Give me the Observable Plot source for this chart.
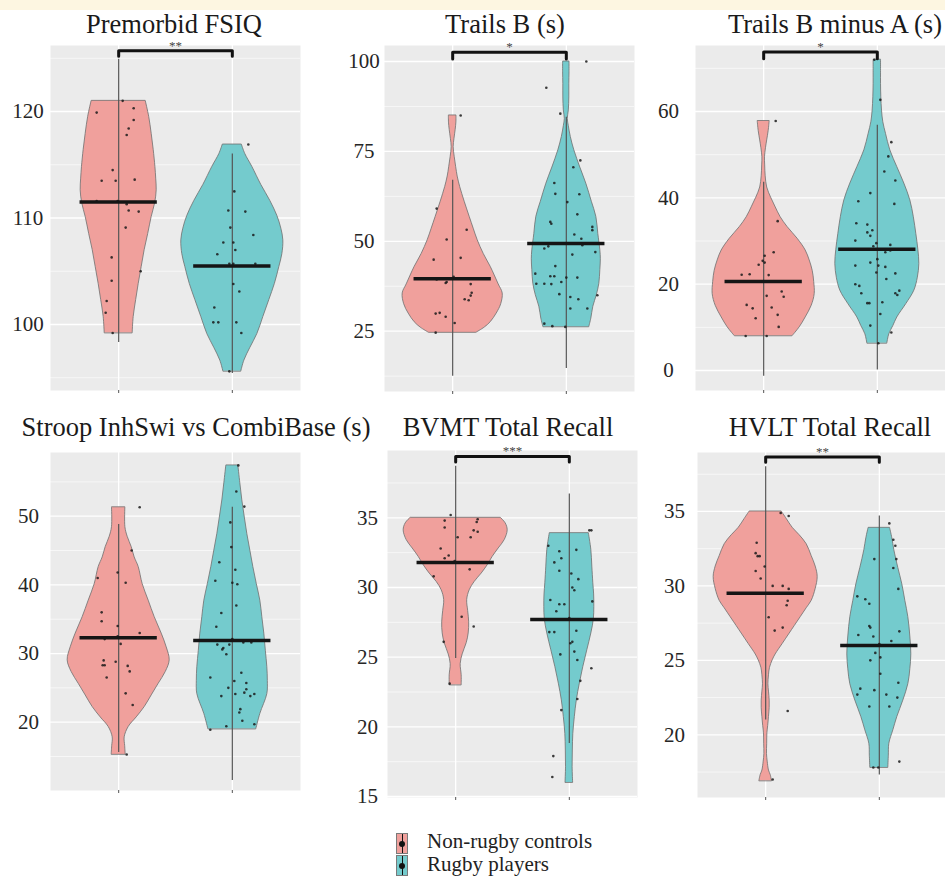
<!DOCTYPE html>
<html><head><meta charset="utf-8">
<script src="https://cdn.jsdelivr.net/npm/d3@7"></script>
<script src="https://cdn.jsdelivr.net/npm/@observablehq/plot@0.6"></script>
<style>
body{margin:0;background:#fff;}
#root{position:relative;width:945px;height:878px;overflow:hidden;background:#fff;font-family:"Liberation Serif","Times New Roman",serif;}
.title{position:absolute;font-size:26.5px;color:#1a1a1a;white-space:nowrap;transform:translateX(-50%);line-height:0.8;}
.panel{position:absolute;}
.panel svg text{font-family:"Liberation Serif","Times New Roman",serif;}
.key{position:absolute;width:10px;height:19px;border:1px solid #7a7a7a;}
.key::before{content:"";position:absolute;left:4.5px;top:0;width:1.2px;height:19px;background:#111;}
.key::after{content:"";position:absolute;left:2px;top:6.5px;width:6px;height:6px;border-radius:50%;background:#111;}
.ltext{position:absolute;font-size:21px;line-height:1;color:#222;white-space:nowrap;}
</style></head>
<body><div id="root"><div style="position:absolute;left:0;top:0;width:945px;height:10px;background:#fdf6e1"></div></div>
<script>
// ---------- DATA ----------
const groups = ["Non-rugby controls", "Rugby players"];
const titles = ["Premorbid FSIQ","Trails B (s)","Trails B minus A (s)","Stroop InhSwi vs CombiBase (s)","BVMT Total Recall","HVLT Total Recall"];
const yTicks = [[100,110,120],[25,50,75,100],[0,20,40,60],[20,30,40,50],[15,20,25,30,35],[20,25,30,35]];
const ctrlMeans  = [111.5, 39.6, 20.6, 32.3, 31.8, 29.5];
const rugbyMeans = [105.5, 49.4, 28.1, 31.9, 27.7, 26.0];
const ctrlRanges  = [[98.3,124.9],[12.5,67.0],[-1.3,43.6],[15.6,48.8],[24.9,38.7],[21.0,38.0]];
const rugbyRanges = [[95.4,116.0],[14.6,84.5],[0.1,56.8],[11.5,51.3],[18.8,36.7],[17.3,34.7]];
const brackets = [[125.7,125.2,"**"],[102.6,100.7,"*"],[73.8,72.2,"*"],null,[39.4,39.0,"***"],[38.65,38.3,"**"]];

// violin profiles: [value, half-width]
const fsiqCtrlViolin = [[99.2,14],[100.7,15],[102.3,17.5],[103.8,20],[105.4,23],[107.0,26],[108.5,29.5],[110.1,33],[111.4,36.5],[112.6,38],[113.7,37.5],[114.8,36.7],[116.4,35],[117.9,33],[119.5,30.5],[121.0,27]];
const fsiqRugbyViolin = [[95.6,9],[96.6,12],[97.8,18],[99.1,25],[100.7,31],[102.3,37],[103.8,42.5],[105.4,47],[106.6,50],[107.9,51],[109.0,49],[110.2,45],[111.6,38],[113.1,29],[114.8,20],[116.0,13],[116.9,9.5]];
const trailsCtrlViolin = [[24.6,24],[26.0,32],[27.5,38],[29.9,44],[32.5,48.5],[35.5,50],[38.0,46],[40.5,42],[42.9,38],[46.5,31],[50.3,25],[53.5,21],[56.8,17],[61.0,12],[65.1,7.5],[68.0,5],[70.6,3.5],[73.5,2],[76.2,1],[78.5,1.8],[81.0,3],[83.0,3.7],[85.0,3.8]];
const trailsRugbyViolin = [[26.2,23],[28.5,25],[31.8,27],[35.0,30.5],[38.2,33],[42.0,34],[45.0,34.5],[47.5,34],[52.0,32],[56.8,30],[61.0,25.5],[66.0,20],[70.5,14],[75.3,8],[79.0,4.5],[82.0,2.5],[84.0,1.5],[86.4,2.5],[90.0,3],[93.8,3],[97.0,3.2],[100.0,3.2]];
const trailsBACtrlViolin = [[8.0,29],[10.0,36],[12.3,42],[15.0,48],[17.7,51],[20.5,50.5],[23.1,49],[25.5,46],[27.8,42],[30.5,34],[33.2,24],[35.5,17],[37.8,12],[40.0,7.5],[42.4,3.5],[45.0,2],[47.5,1.5],[49.4,1.3],[51.5,2.3],[53.3,3.5],[55.5,5],[57.8,6]];
const trailsBARugbyViolin = [[6.3,10],[8.4,12],[10.3,16],[12.3,20],[15.4,29],[18.5,37],[21.5,40.5],[24.7,42],[28.0,41],[31.6,39],[35.5,36.5],[39.4,33],[43.3,27],[47.1,20],[51.0,13],[54.8,8.7],[57.5,6],[60.2,4.7],[63.3,4],[66.4,3.7],[69.0,3.7],[72.0,3.7]];
const stroopCtrlViolin = [[15.3,7],[16.5,6.5],[17.8,6],[19.3,10],[20.7,18],[22.2,26],[23.9,33],[25.6,40],[27.3,47],[29.0,51],[30.9,48],[32.9,43],[35.3,36],[37.7,30],[40.1,24],[42.6,20],[44.0,16],[45.5,13],[47.0,9],[48.4,6.7],[51.3,6.7]];
const stroopRugbyViolin = [[19.0,24],[21.2,28],[24.1,35],[26.0,35.5],[28.0,35],[30.4,33.5],[32.9,32],[35.3,30],[37.7,28],[40.1,24.5],[42.6,21],[45.0,18],[47.4,15],[49.8,12.5],[52.3,10],[54.8,8],[57.4,6]];
const bvmtCtrlViolin = [[23.0,6],[23.7,6],[24.5,5],[25.2,7],[26.0,11],[26.7,13],[27.5,13.5],[28.3,12.5],[29.1,11.5],[29.8,14],[30.4,19],[31.0,26],[31.6,32],[32.2,37],[32.8,43],[33.4,49],[34.1,52],[34.6,50],[35.0,45]];
const bvmtRugbyViolin = [[16.0,3.8],[17.1,3.3],[18.3,3.5],[19.5,4],[20.7,5.5],[21.9,7.5],[23.1,10.5],[24.3,14],[25.5,18],[26.7,22],[27.7,24.5],[28.6,25],[29.5,24.8],[30.3,24],[31.5,23],[32.7,22],[33.9,19.5]];
const hvltCtrlViolin = [[16.9,6.3],[17.3,5],[17.6,3.3],[18.2,2],[18.7,1.3],[19.4,1.5],[20.1,1.7],[20.6,2.5],[21.2,3.3],[21.8,4],[22.3,4],[22.9,3.3],[23.4,2.7],[24.0,3.3],[24.5,4.3],[25.0,7],[25.4,10],[26.1,17],[26.8,24],[27.3,29],[27.9,35],[28.5,41],[29.0,46],[29.8,50],[30.6,52],[31.3,50],[32.0,46],[32.8,41],[33.4,34],[33.9,27],[34.5,21],[35.0,16]];
const hvltRugbyViolin = [[17.8,9],[18.6,9.5],[19.4,10],[20.3,14],[21.2,18],[22.3,24],[23.4,29],[24.4,31],[25.4,32],[26.6,31],[27.9,29],[29.0,26],[30.1,23],[31.2,19],[32.4,15],[33.2,13],[33.9,10.7]];

// individual scores: [value, horizontal jitter]
const fsiqCtrlPts = [[121.0,4],[119.9,-22],[120.3,15],[119.2,15],[118.4,10],[117.8,8],[114.5,-6],[113.5,-17],[113.5,-3],[113.6,16],[111.6,-22],[111.6,-1],[111.3,8],[110.7,10],[110.6,20],[109.1,7],[106.3,-7],[104.1,-7],[105.0,22],[102.2,-12],[101.1,-13],[99.2,-6]];
const fsiqRugbyPts = [[116.9,16],[112.5,2],[110.7,-4],[110.6,13],[109.1,-2],[108.4,21],[107.7,-9],[107.7,1],[107.0,3],[106.6,-15],[105.7,-3],[105.7,1],[105.7,23],[103.8,1],[103.1,7],[101.6,-18],[100.2,-19],[100.2,-14],[100.2,4],[99.2,9],[95.6,-3]];
const trailsCtrlPts = [[85.0,8],[59.1,-16],[50.5,-6],[53.2,14],[44.9,-19],[45.4,8],[40.1,1],[39.4,-16],[38.4,-7],[38.7,-6],[38.1,18],[35.7,19],[34.9,18],[33.9,12],[33.6,16],[29.9,-17],[30.1,-13],[29.0,-7],[27.3,2],[24.6,-17]];
const trailsRugbyPts = [[100,20],[92.7,-20],[85.5,-6],[72.5,14],[66.2,-12],[70.6,7],[63.2,-11],[63.1,13],[60.9,1],[57.5,11],[55.4,-16],[54.9,-15],[54.0,26],[53.1,26],[51.9,8],[50.7,15],[48.9,16],[48.0,-22],[48.6,-18],[46.3,6],[47.0,29],[43.1,-11],[41.0,-31],[40.3,-16],[40.3,-12],[39.9,0],[39.9,11],[38.2,-30],[38.2,-22],[38.7,-5],[38.1,-15],[35.3,-7],[34.5,4],[33.9,12],[35.0,31],[31.3,4],[31.3,21],[27.1,-22],[26.2,-1],[26.4,-14]];
const trailsBACtrlPts = [[57.8,12],[34.6,14],[27.4,10],[26.6,1],[25.4,-1],[25.0,1],[24.5,-5],[22.2,-22],[22.3,-14],[22.1,5],[20.6,0],[18.3,18],[17.1,20],[17.3,3],[15.2,-17],[14.4,-11],[14.6,8],[12.1,-8],[12.9,14],[10.1,15],[8.0,-18],[8.0,3]];
const trailsBARugbyPts = [[72.0,-3],[62.7,3],[52.9,14],[49.6,11],[46.1,7],[44.0,18],[38.6,17],[39.2,-19],[41.1,-7],[34.1,-21],[33.8,-10],[32.5,-5],[32.0,-10],[31.2,-7],[30.1,-22],[29.5,-1],[29.1,13],[28.8,-4],[27.4,8],[27.8,13],[25.8,0],[25.0,-7],[24.3,1],[24.3,-22],[24.0,8],[22.7,-1],[22.5,18],[21.2,9],[20.0,-22],[19.6,-18],[17.9,-16],[17.9,18],[18.5,22],[17.5,20],[15.6,-10],[15.6,-8],[15.8,5],[13.1,3],[10.4,-7],[8.8,14],[6.3,1]];
const stroopCtrlPts = [[51.3,21],[45.0,13],[41.0,-21],[41.8,-1],[40.3,7],[36.0,-17],[34.7,-17],[34.0,-1],[33.0,21],[32.1,-14],[32.5,-1],[31.4,2],[29.0,-15],[28.3,-16],[28.3,-14],[28.8,-3],[28.2,9],[27.4,11],[26.5,-12],[24.2,7],[22.5,14],[15.3,8]];
const stroopRugbyPts = [[57.4,6],[53.6,4],[51.4,12],[49.1,-2],[45.5,-1],[43.3,-13],[42.2,3],[40.6,-17],[40.3,0],[40.1,5],[37.0,4],[35.9,-11],[33.9,-16],[31.3,-15],[30.8,-9],[31.3,-3],[32.1,0],[31.6,11],[31.6,19],[30.6,-10],[29.9,-6],[26.5,-22],[26.0,2],[27.2,9],[25.7,14],[25.0,-4],[24.8,14],[23.8,-11],[24.1,3],[24.3,12],[24.1,22],[23.8,18],[21.9,8],[21.4,7],[20.2,10],[19.4,-6],[19.7,22],[18.9,-22]];
const bvmtCtrlPts = [[35.2,-5],[34.8,-11],[34.9,22],[34.7,21],[34.3,-11],[34.1,18],[34.0,22],[33.6,2],[33.6,15],[32.8,-15],[32.3,-7],[32.1,-11],[31.9,-1],[31.3,14],[30.8,-22],[27.9,6],[27.2,18],[26.1,-12],[23.1,-6]];
const bvmtRugbyPts = [[34.1,22],[34.1,20],[33.0,-21],[32.6,-10],[32.7,7],[32.1,-8],[31.8,-15],[31.2,-10],[31.0,2],[30.6,9],[30.0,3],[29.8,5],[29.1,-19],[29.0,23],[28.8,-5],[28.8,-10],[28.3,-13],[27.8,0],[26.9,7],[26.8,-20],[26.8,-15],[26.1,3],[26.0,1],[25.4,5],[25.2,-9],[24.8,8],[24.2,22],[23.3,11],[22.0,8],[21.2,-8],[17.9,-16],[16.4,-17]];
const hvltCtrlPts = [[34.9,15],[34.7,23],[32.9,-9],[32.2,-10],[32.0,-8],[32.0,-6],[31.3,-1],[31.0,-10],[30.5,-5],[30.0,7],[30.0,17],[29.8,23],[29.5,0],[29.0,22],[28.7,21],[27.9,3],[27.2,17],[27.0,9],[21.6,22],[17.0,7]];
const hvltRugbyPts = [[34.2,10],[33.1,14],[32.7,16],[31.8,-5],[31.8,17],[31.2,14],[29.8,19],[29.3,-22],[29.1,-14],[28.8,-10],[27.3,-10],[27.2,-9],[26.95,20],[26.7,-21],[26.6,-6],[26.3,12],[26.1,0],[25.5,-4],[25.2,1],[25.0,-9],[24.1,1],[23.5,19],[23.1,-19],[22.7,-22],[23.0,-5],[22.7,7],[22.5,18],[21.9,-10],[21.9,10],[18.2,20],[17.8,-6],[17.8,-1]];

const ctrlViolins = [fsiqCtrlViolin, trailsCtrlViolin, trailsBACtrlViolin, stroopCtrlViolin, bvmtCtrlViolin, hvltCtrlViolin];
const rugbyViolins = [fsiqRugbyViolin, trailsRugbyViolin, trailsBARugbyViolin, stroopRugbyViolin, bvmtRugbyViolin, hvltRugbyViolin];
const ctrlPts = [fsiqCtrlPts, trailsCtrlPts, trailsBACtrlPts, stroopCtrlPts, bvmtCtrlPts, hvltCtrlPts];
const rugbyPts = [fsiqRugbyPts, trailsRugbyPts, trailsBARugbyPts, stroopRugbyPts, bvmtRugbyPts, hvltRugbyPts];

// ---------- LAYOUT ----------
const frames = [[50,45,300,390],[384,45,634,391],[695,45,945,390],[50,452,300,790],[387,450,637,797],[697,452,947,797]];
const yDomains = [[93.8,126.2],[8.23,104.45],[-4.63,75.29],[10.05,59.28],[14.93,39.83],[15.79,38.96]];
const labelOffsets = [22.5,20.5,27,22,20,23];
const titleX = [174,505,835,196,508,830];
const titleBase = [33.3,33.3,33.3,436,436,436];
const fills = ["#f0a09c", "#74cbcd"];
const SERIF = "'Liberation Serif','Times New Roman',serif";
const U = 113.6; // pixels per group unit (250px / 2.2 units)

const root = document.getElementById("root");

function panel(i) {
  const [x0,y0,x1,y1] = frames[i];
  const ML = 48, MT = 18, MR = 2, MB = 8;
  const ticks = yTicks[i];
  const step = ticks[1] - ticks[0];
  const [lo, hi] = yDomains[i];
  const minor = d3.range(ticks[0] - step/2, hi, step).filter(v => v > lo);
  const G = [1, 2];
  const violins = [ctrlViolins[i], rugbyViolins[i]];
  const pts = [ctrlPts[i], rugbyPts[i]];
  const means = [ctrlMeans[i], rugbyMeans[i]];
  const ranges = [ctrlRanges[i], rugbyRanges[i]];
  const marks = [
    Plot.frame({fill: "#ebebeb", stroke: "none"}),
    Plot.gridY({ticks: minor, stroke: "#fff", strokeOpacity: 1, strokeWidth: 0.6}),
    Plot.gridY({ticks, stroke: "#fff", strokeOpacity: 1, strokeWidth: 1.3}),
    Plot.gridX({ticks: G, stroke: "#fff", strokeOpacity: 1, strokeWidth: 1.3}),
    Plot.axisY({ticks, tickSize: 0, tickPadding: labelOffsets[i], textAnchor: "middle", fontSize: 21, fontFamily: SERIF, fill: "#262626", tickFormat: d => String(d), label: null}),
    Plot.axisX({ticks: G, tickSize: 3, tickPadding: 0, tickFormat: () => "", label: null, stroke: "#555"})
  ];
  G.forEach((g, k) => {
    marks.push(Plot.areaX(violins[k], {y: d => d[0], x1: d => g - d[1]/U, x2: d => g + d[1]/U, fill: fills[k], stroke: "#6e6e6e", strokeWidth: 0.8, curve: "catmull-rom"}));
    marks.push(Plot.ruleX([ranges[k]], {x: () => g, y1: d => d[0], y2: d => d[1], stroke: "#555", strokeWidth: 1.2}));
    marks.push(Plot.dot(pts[k], {x: d => g + d[1]/U, y: d => d[0], r: 1.3, fill: "#1a1a1a", stroke: "none", fillOpacity: 0.85}));
    marks.push(Plot.ruleY([means[k]], {y: d => d, x1: g - 0.34, x2: g + 0.34, stroke: "#151515", strokeWidth: 3.5}));
  });
  const b = brackets[i];
  if (b) {
    marks.push(Plot.line([[1,b[1]],[1,b[0]],[2,b[0]],[2,b[1]]], {x: d => d[0], y: d => d[1], stroke: "#111", strokeWidth: 3}));
    marks.push(Plot.text([b[2]], {x: 1.5, y: b[0], text: d => d, lineAnchor: "bottom", dy: -1, fontSize: 13, fontFamily: SERIF, fill: "#444"}));
  }
  const svg = Plot.plot({
    width: (x1 - x0) + ML + MR, height: (y1 - y0) + MT + MB,
    marginLeft: ML, marginTop: MT, marginRight: MR, marginBottom: MB,
    x: {domain: [0.4, 2.6]}, y: {domain: yDomains[i]},
    style: {background: "transparent", overflow: "visible", fontFamily: SERIF, fontSize: "20px", maxWidth: "none"},
    marks
  });
  const div = document.createElement("div");
  div.className = "panel";
  div.style.left = (x0 - ML) + "px";
  div.style.top = (y0 - MT) + "px";
  div.appendChild(svg);
  root.appendChild(div);

  const t = document.createElement("div");
  t.className = "title";
  t.textContent = titles[i];
  t.style.left = titleX[i] + "px";
  t.style.top = (titleBase[i] - 19.5) + "px";
  root.appendChild(t);
}
for (let i = 0; i < 6; i++) panel(i);

// legend
const legendBaselines = [848.3, 871.6];
groups.forEach((name, k) => {
  const key = document.createElement("div");
  key.className = "key";
  key.style.left = "396px";
  key.style.top = (833 + k * 22) + "px";
  key.style.background = fills[k];
  root.appendChild(key);
  const lt = document.createElement("div");
  lt.className = "ltext";
  lt.textContent = name;
  lt.style.left = "427px";
  lt.style.top = (legendBaselines[k] - 17.6) + "px";
  root.appendChild(lt);
});
</script>
</body></html>
